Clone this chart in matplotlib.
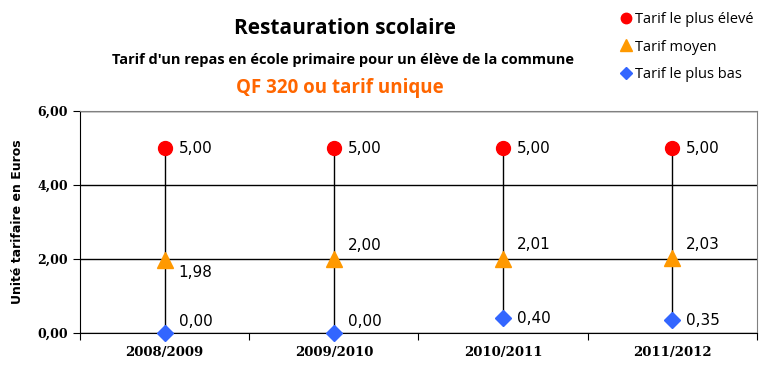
import matplotlib
matplotlib.use("Agg")
import matplotlib.pyplot as plt

years = ["2008/2009", "2009/2010", "2010/2011", "2011/2012"]
tarif_haut = [5.00, 5.00, 5.00, 5.00]
tarif_moyen = [1.98, 2.00, 2.01, 2.03]
tarif_bas = [0.00, 0.00, 0.40, 0.35]

# label offsets (points) for each series
off_haut = [(10, 0), (10, 0), (10, 0), (10, 0)]
off_moyen = [(10, -9), (10, 10), (10, 10), (10, 10)]
off_bas = [(10, 8), (10, 8), (10, 0), (10, 0)]

fig = plt.figure(figsize=(7.71, 3.83), dpi=100)
ax = fig.add_axes([0.1038, 0.1305, 0.878, 0.5796])

x = list(range(len(years)))

# high-low lines
for i in x:
    lo = min(tarif_haut[i], tarif_moyen[i], tarif_bas[i])
    hi = max(tarif_haut[i], tarif_moyen[i], tarif_bas[i])
    ax.plot([i, i], [lo, hi], color="black", lw=1, zorder=2)

ax.plot(x, tarif_haut, ls="none", marker="o", ms=10, color="#FF0000",
        label="Tarif le plus élevé", zorder=3, clip_on=False)
ax.plot(x, tarif_moyen, ls="none", marker="^", ms=11, color="#FF9900",
        label="Tarif moyen", zorder=3, clip_on=False)
ax.plot(x, tarif_bas, ls="none", marker="D", ms=8.5, color="#3366FF",
        label="Tarif le plus bas", zorder=3, clip_on=False)

def fmt(v):
    return f"{v:.2f}".replace(".", ",")

for vals, offs in [(tarif_haut, off_haut), (tarif_moyen, off_moyen), (tarif_bas, off_bas)]:
    for i, v in enumerate(vals):
        ax.annotate(fmt(v), (i, v), xytext=offs[i], textcoords="offset points",
                    ha="left", va="center", fontsize=11, family="DejaVu Sans")

ax.set_xlim(-0.5, 3.5)
ax.set_ylim(0, 6)
ax.set_yticks([0, 2, 4, 6])
ax.set_yticklabels([fmt(v) for v in [0, 2, 4, 6]], fontsize=9,
                   family="DejaVu Serif", fontweight="bold")
ax.set_xticks([-0.5, 0.5, 1.5, 2.5, 3.5])
ax.set_xticklabels([])
ax.set_xticks(x, minor=True)
ax.set_xticklabels(years, minor=True, fontsize=9.5, family="DejaVu Serif",
                   fontweight="bold")
ax.tick_params(axis="x", which="minor", length=0, pad=9)
ax.tick_params(axis="x", which="major", direction="out", length=5, color="black")
ax.tick_params(axis="y", direction="out", length=5, color="black")

ax.grid(axis="y", color="black", lw=1, zorder=1)
ax.set_axisbelow(True)
ax.spines["top"].set_color("#808080")
ax.spines["right"].set_color("#808080")
ax.spines["left"].set_color("black")
ax.spines["bottom"].set_color("black")

ax.set_ylabel("Unité tarifaire en Euros", fontsize=9, fontweight="bold", labelpad=10)

fig.text(0.447, 0.925, "Restauration scolaire", ha="center", va="center",
         fontsize=15, fontweight="bold", family="Open Sans")
fig.text(0.445, 0.843, "Tarif d'un repas en école primaire pour un élève de la commune",
         ha="center", va="center", fontsize=10.5, fontweight="bold", family="Open Sans")
fig.text(0.441, 0.770, "QF 320 ou tarif unique", ha="center", va="center",
         fontsize=13.5, fontweight="bold", color="#FF6600", family="Open Sans")

fig.legend(loc="upper left", bbox_to_anchor=(0.792, 0.995), frameon=False,
           handlelength=0.7, handletextpad=0.25, labelspacing=0.85, borderaxespad=0.3,
           markerscale=0.75, prop={"family": "Open Sans", "size": 10.5})

fig.savefig("out.png", dpi=100)
